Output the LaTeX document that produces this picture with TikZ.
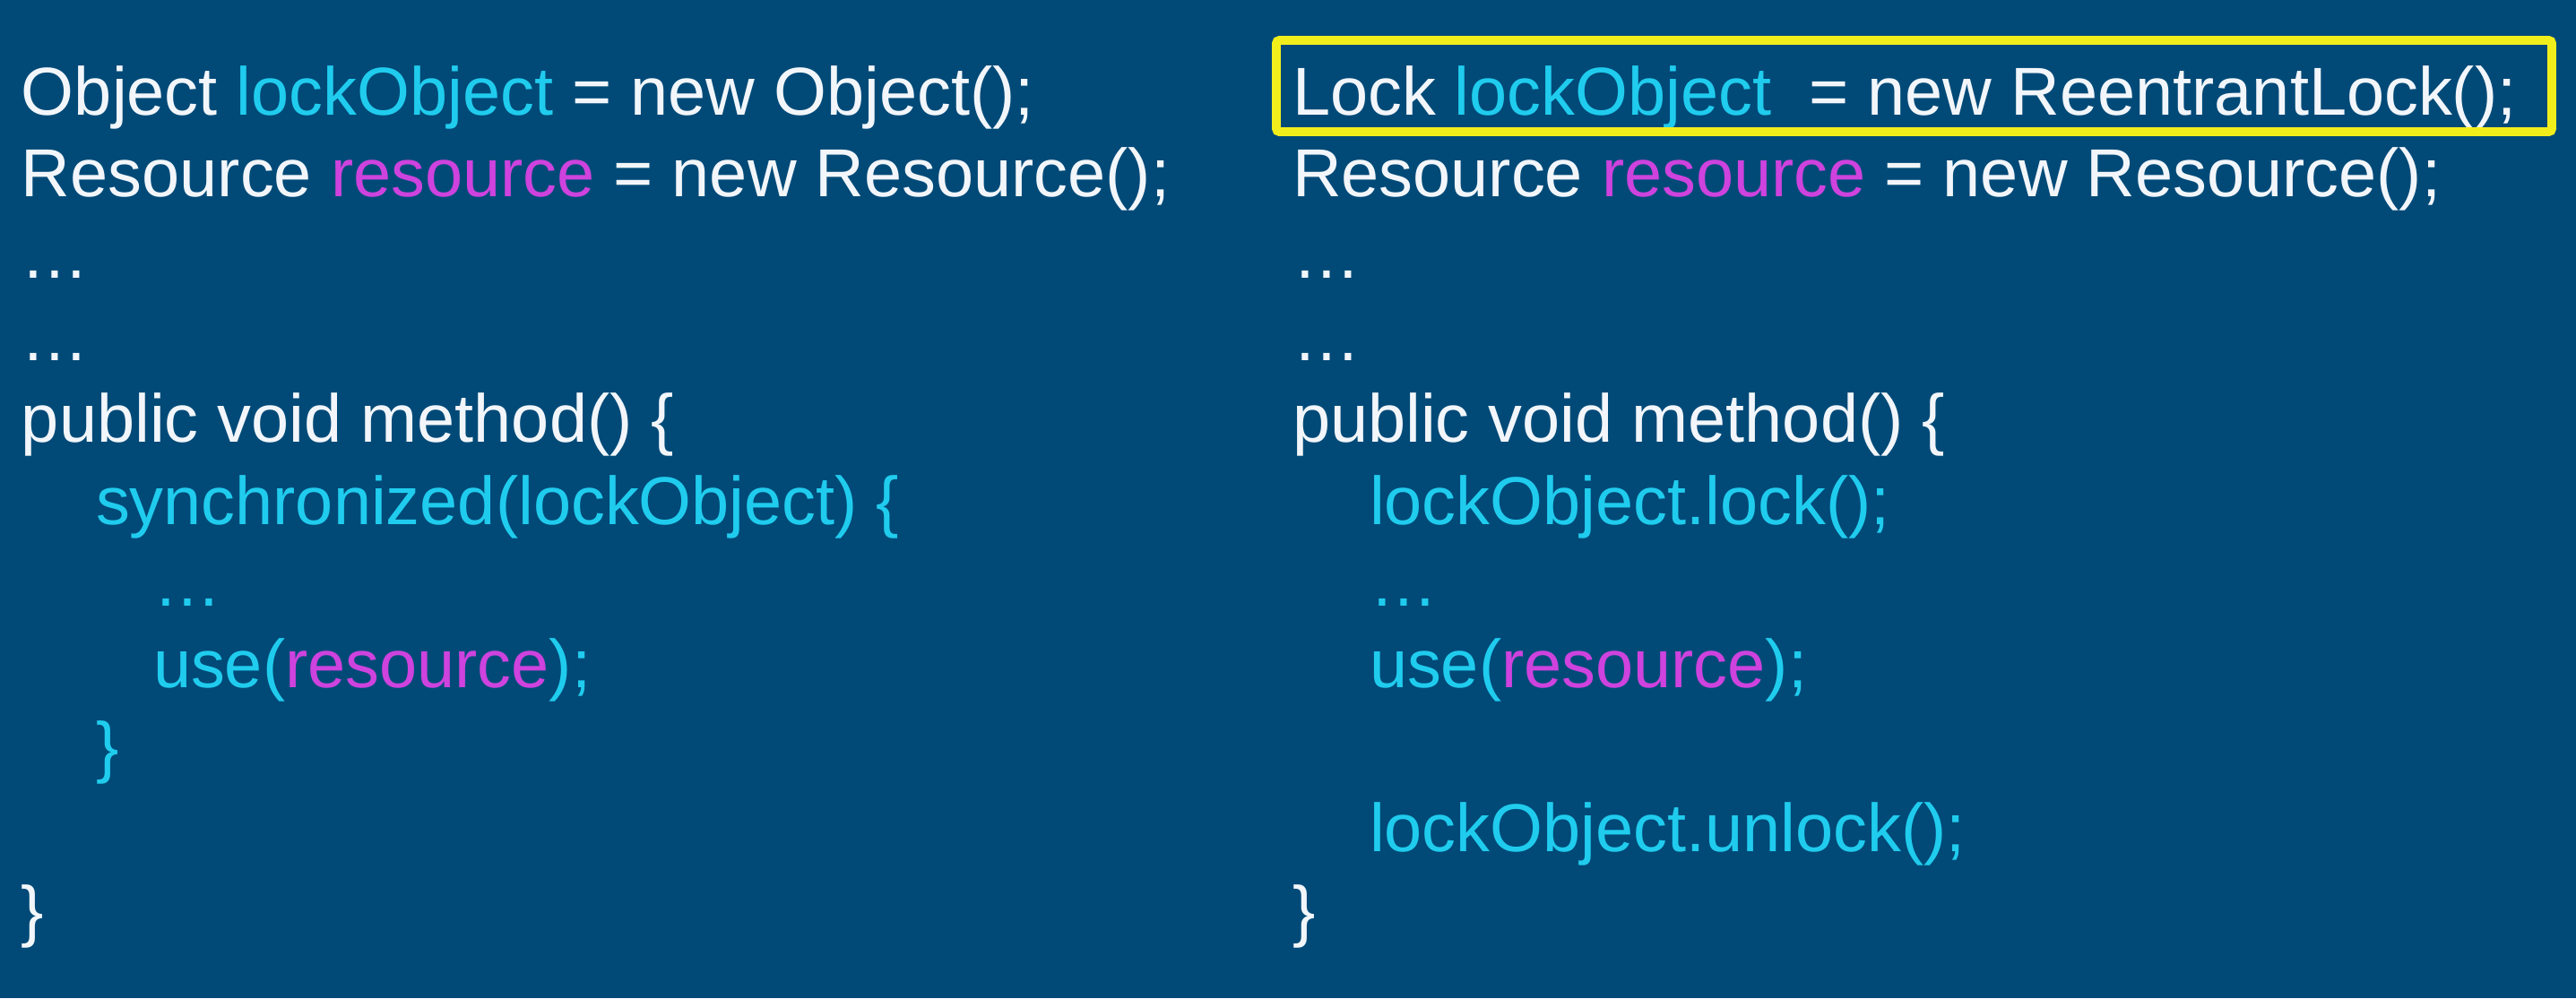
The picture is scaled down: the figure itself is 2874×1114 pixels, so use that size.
\documentclass[tikz,border=0pt]{standalone}
\usepackage{fontspec}
\setmainfont{Liberation Sans}

\definecolor{slidebg}{HTML}{014A78}
\definecolor{codewhite}{HTML}{F2F6FA}
\definecolor{codecyan}{HTML}{20CCEE}
\definecolor{codepink}{HTML}{CE42DE}
\definecolor{boxyellow}{HTML}{F2EE1C}

\newcommand{\varcyan}[1]{\textcolor{codecyan}{#1}}
\newcommand{\varpink}[1]{\textcolor{codepink}{#1}}

\begin{document}
\begin{tikzpicture}[x=0.01cm, y=-0.01cm]

    % Set the canvas size
    \useasboundingbox (0,0) rectangle (2874,1114);
    \fill[slidebg] (0,0) rectangle (2874,1114);

    % Define styles
    \tikzset{
        code/.style={anchor=base west, inner sep=0pt, outer sep=0pt, text=codewhite, font=\fontsize{21.53}{26}\selectfont},
        inner/.style={code, text=codecyan},
        hilite/.style={draw=boxyellow, line width=2.8pt, rounded corners=1pt},
    }

    % Left column: synchronized block
    \node[code] (l1) at (24,128) {Object \varcyan{lockObject} = new Object();};
    \node[code] (l2) at (24,219.4) {Resource \varpink{resource} = new Resource();};
    \node[code] (l3) at (24,310.8) {…};
    \node[code] (l4) at (24,402.2) {…};
    \node[code] (l5) at (24,493.6) {public void method() \{};
    \node[inner] (l6) at (107,585) {synchronized(lockObject) \{};
    \node[inner] (l7) at (171,676.4) {…};
    \node[inner] (l8) at (171,767.8) {use(\varpink{resource});};
    \node[inner] (l9) at (107,859.2) {\}};
    \node[code] (l11) at (24,1042) {\}};

    % Right column: explicit lock
    \node[code] (r1) at (1442,128) {Lock \varcyan{lockObject}\ \ = new ReentrantLock();};
    \node[code] (r2) at (1442,219.4) {Resource \varpink{resource} = new Resource();};
    \node[code] (r3) at (1442,310.8) {…};
    \node[code] (r4) at (1442,402.2) {…};
    \node[code] (r5) at (1442,493.6) {public void method() \{};
    \node[inner] (r6) at (1528,585) {lockObject.lock();};
    \node[inner] (r7) at (1528,676.4) {…};
    \node[inner] (r8) at (1528,767.8) {use(\varpink{resource});};
    \node[inner] (r10) at (1528,950.6) {lockObject.unlock();};
    \node[code] (r11) at (1442,1042) {\}};

    % Highlight round the lock declaration
    \draw[hilite] (1424,45) rectangle (2847,147);

\end{tikzpicture}
\end{document}
